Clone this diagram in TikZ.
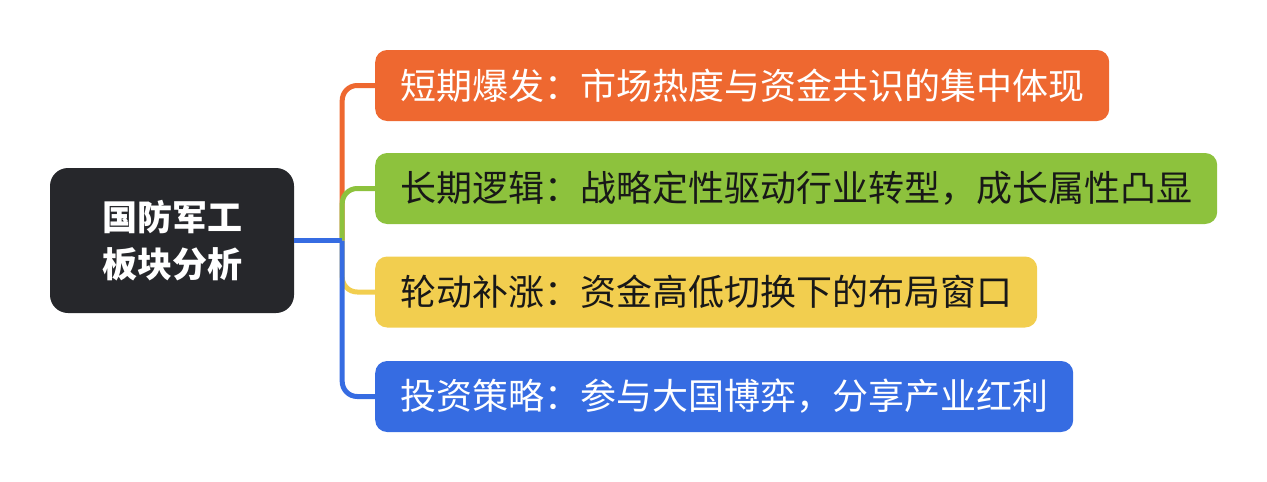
\documentclass[tikz,border=0pt]{standalone}
\usepackage{fontspec}
\setmainfont{Noto Sans CJK SC}
\usetikzlibrary{positioning}
\definecolor{corange}{RGB}{238,104,48}
\definecolor{cgreen}{RGB}{141,194,61}
\definecolor{cyellow}{RGB}{242,206,79}
\definecolor{cblue}{RGB}{54,108,226}
\definecolor{cdark}{RGB}{38,39,43}
\definecolor{cink}{RGB}{24,24,24}
\tikzset{root/.style={rectangle,rounded corners=18pt,fill=cdark,text=white,align=center,
	 font=\bfseries\fontsize{35}{47}\selectfont,minimum width=244pt,minimum height=145pt},
	 topic/.style={rectangle,rounded corners=12pt,anchor=west,inner xsep=25pt,inner ysep=0pt,
	 font=\fontsize{36}{40}\selectfont,minimum height=71pt},
	 link/.style={line width=5pt,rounded corners=15pt}
	 }

\begin{document}
\begin{tikzpicture}[x=1pt,y=-1pt]% defence sector map
        \useasboundingbox (0,0) rectangle (1267,482);
        \node[root] (root) at (172,240.5) {国防军工\\板块分析};
        \node[topic,fill=corange,text=white] (burst) at (375,85.5) {短期爆发：市场热度与资金共识的集中体现};
        \node[topic,fill=cgreen,text=cink] (logic) at (375,188.5) {长期逻辑：战略定性驱动行业转型，成长属性凸显};
        \node[topic,fill=cyellow,text=cink] (rotate) at (375,292) {轮动补涨：资金高低切换下的布局窗口};
        \node[topic,fill=cblue,text=white] (plan) at (375,396.5) {投资策略：参与大国博弈，分享产业红利};
        \coordinate (fork) at ([xshift=48pt]root.east);
        \draw[link,corange] (fork) |- (burst.west);
        \draw[link,cgreen] (fork) |- (logic.west);
        \draw[link,cyellow] (fork) |- (rotate.west);
        \draw[link,cblue] (fork) |- (plan.west);
        \draw[link,cblue] (root.east) to (fork);
     \end{tikzpicture}
\end{document}
